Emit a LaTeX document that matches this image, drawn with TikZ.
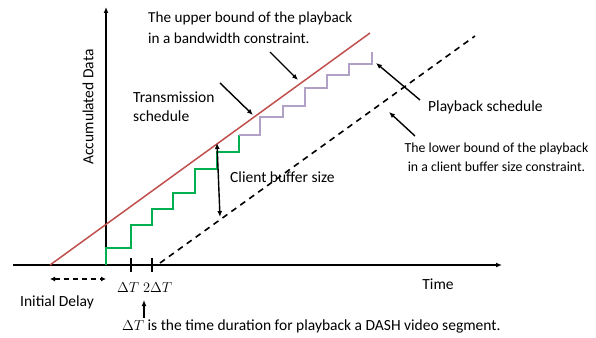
\documentclass[tikz,border=0pt]{standalone}
\usepackage{fontspec}
\setmainfont{Carlito}
\usetikzlibrary{arrows.meta}
\begin{document}
\begin{tikzpicture}[x=1pt,y=-1pt,
  lbl/.style={font=\fontsize{15.5}{19}\selectfont, inner sep=0pt},
  axis/.style={line width=1.6pt, -{Latex[length=6pt,width=5pt]}},
  pointer/.style={line width=1.4pt, -{Latex[length=6pt,width=5pt]}},
  redline/.style={line width=1.5pt, draw={rgb,255:red,192;green,80;blue,77}},
  greenline/.style={line width=1.5pt, draw={rgb,255:red,0;green,176;blue,80}},
  purpleline/.style={line width=1.5pt, draw={rgb,255:red,178;green,161;blue,199}},
  dashline/.style={line width=1.6pt, dash pattern=on 6pt off 5pt}]
\useasboundingbox (0,0) rectangle (596,337);
% axes
\coordinate (o) at (106,265);
\coordinate (xs) at (13,265);
\coordinate (xe) at (502,265);
\coordinate (ye) at (106,7);
\draw[axis] (xs) -- (xe);
\draw[axis] (o) -- (ye);
% ticks
\coordinate (t1) at (131,265);
\coordinate (t2) at (152,265);
\draw[line width=1.4pt] ([yshift=-7]t1) -- ([yshift=7]t1);
\draw[line width=1.4pt] ([yshift=-7]t2) -- ([yshift=7]t2);
% red upper bound
\coordinate (rs) at (50,265);
\coordinate (re) at (370,33);
\draw[redline] (rs) -- (re);
% dashed lower bound
\coordinate (ds) at (160,263);
\coordinate (de) at (475,36);
\draw[dashline] (ds) -- (de);
% green staircase
\draw[greenline] (106,265) |- (131,248) |- (152,225) |- (173,209) |- (195,193) |- (217,169) |- (239,152) -- (239,135);
% purple staircase
\draw[purpleline] (239,135) -- (260,135) |- (283,117) |- (305,106) |- (327,88) |- (349,75) |- (372,64) -- (372,52);
% client buffer arrow
\coordinate (cb1) at (217,143);
\coordinate (cb2) at (220,217);
\draw[line width=1.4pt, {Latex[length=6pt,width=5pt]}-{Latex[length=6pt,width=5pt]}] (cb1) -- (cb2);
\node[lbl, anchor=west] (cbs) at (230,177) {Client buffer size};
% initial delay
\coordinate (id1) at (50,279);
\coordinate (id2) at (106,279);
\draw[line width=1.4pt, dash pattern=on 5pt off 4pt, {Latex[length=5pt,width=5pt]}-{Latex[length=5pt,width=5pt]}] (id1) -- (id2);
\node[lbl] (idl) at (57,302) {Initial Delay};
% tick labels
\node[lbl, font=\fontsize{14}{16}\selectfont, anchor=west] (dtl) at (117,288) {$\Delta T$\hspace{4pt}$2\Delta T$};
% bottom note
\coordinate (na) at (144,300);
\node[lbl, anchor=west] (note) at (122,326) {$\Delta T$ is the time duration for playback a DASH video segment.};
\draw[pointer] (note.north -| na) ++(0,-1) coordinate (nb) -- (na);
% time and axis labels
\node[lbl] (time) at (438,284) {Time};
\node[lbl, rotate=90] (acc) at (88,107) {Accumulated Data};
% upper bound label
\node[lbl, font=\fontsize{15.2}{21}\selectfont, anchor=west, align=left] (ub) at (148,27.5) {The upper bound of the playback\\ in a bandwidth constraint.};
\coordinate (ubs) at (270,52);
\coordinate (ube) at (298,80);
\draw[pointer] (ubs) -- (ube);
% transmission schedule
\node[lbl, anchor=west, align=left] (ts) at (133,106.5) {Transmission\\schedule};
\coordinate (tss) at (220,83);
\coordinate (tse) at (253,115);
\draw[pointer] (tss) -- (tse);
% playback schedule
\node[lbl, anchor=west] (ps) at (428,107) {Playback schedule};
\coordinate (pss) at (420,100);
\coordinate (pse) at (376,63);
\draw[pointer] (pss) -- (pse);
% lower bound
\node[lbl, font=\fontsize{13.8}{19}\selectfont, align=center] (lb) at (496.5,157.5) {The lower bound of the playback\\in a client buffer size constraint.};
\coordinate (lbs) at (415,136);
\coordinate (lbe) at (389,112);
\draw[pointer] (lbs) -- (lbe);
\end{tikzpicture}
\end{document}
